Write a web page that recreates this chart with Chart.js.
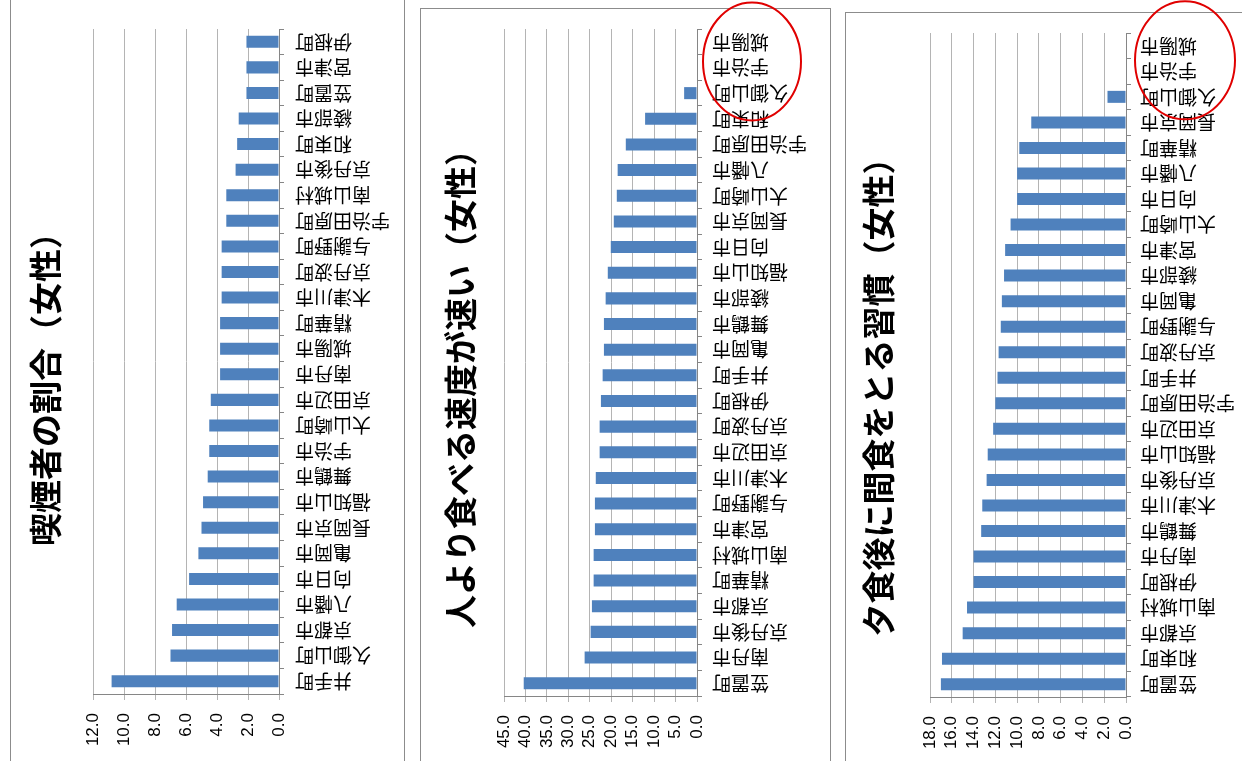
<!DOCTYPE html>
<html lang="ja">
<head>
<meta charset="utf-8">
<title>女性の生活習慣</title>
<script src="https://cdn.jsdelivr.net/npm/chart.js@4.4.1/dist/chart.umd.min.js"></script>
<style>
  html, body { margin: 0; padding: 0; background: #fff; overflow: hidden; }
  body { width: 1242px; height: 761px; position: relative; }
  .box { position: absolute; border: 1px solid #8c8c8c; box-sizing: border-box; }
  canvas { position: absolute; top: 0; }
</style>
</head>
<body>
<div class="box" style="left:10px;top:-10px;width:395px;height:800px"></div>
<div class="box" style="left:420px;top:8px;width:411px;height:800px"></div>
<div class="box" style="left:845px;top:12px;width:420px;height:800px"></div>
<canvas id="smoke" width="392" height="761" style="left:11px"></canvas>
<canvas id="speed" width="408" height="761" style="left:421px"></canvas>
<canvas id="snack" width="396" height="761" style="left:846px"></canvas>

<script>
// 喫煙者の割合（女性）
const smokeCities = ["伊根町", "宮津市", "笠置町", "綾部市", "和束町", "京丹後市", "南山城村", "宇治田原町", "与謝野町",
    "京丹波町", "木津川市", "精華町", "城陽市", "南丹市", "京田辺市", "大山崎町", "宇治市", "舞鶴市", "福知山市",
    "長岡京市", "亀岡市", "向日市", "八幡市", "京都市", "久御山町", "井手町"];
const smokeValues = [2.1, 2.1, 2.1, 2.6, 2.7, 2.8, 3.4, 3.4, 3.7, 3.7, 3.7, 3.8, 3.8, 3.8, 4.4, 4.5, 4.5, 4.6, 4.9,
    5.0, 5.2, 5.8, 6.6, 6.9, 7.0, 10.8];

// 人より食べる速度が速い（女性）
const speedCities = ["城陽市", "宇治市", "久御山町", "和束町", "宇治田原町", "八幡市", "大山崎町", "長岡京市", "向日市",
    "福知山市", "綾部市", "舞鶴市", "亀岡市", "井手町", "伊根町", "京丹波町", "京田辺市", "木津川市", "与謝野町",
    "宮津市", "南山城村", "精華町", "京都市", "京丹後市", "南丹市", "笠置町"];
const speedValues = [0, 0, 3.0, 12.1, 16.6, 18.5, 18.7, 19.4, 20.1, 20.8, 21.3, 21.7, 21.7, 22.0, 22.4, 22.7, 22.7,
    23.6, 23.8, 23.8, 24.1, 24.1, 24.5, 24.8, 26.2, 40.4];

// 夕食後に間食をとる習慣（女性）
const snackCities = ["城陽市", "宇治市", "久御山町", "長岡京市", "精華町", "八幡市", "向日市", "大山崎町", "宮津市",
    "綾部市", "亀岡市", "与謝野町", "京丹波町", "井手町", "宇治田原町", "京田辺市", "福知山市", "京丹後市", "木津川市",
    "舞鶴市", "南丹市", "伊根町", "南山城村", "京都市", "和束町", "笠置町"];
const snackValues = [0, 0, 1.7, 8.7, 9.8, 10.0, 10.0, 10.6, 11.1, 11.2, 11.4, 11.5, 11.7, 11.8, 12.0, 12.2, 12.7,
    12.8, 13.2, 13.3, 14.0, 14.0, 14.6, 15.0, 16.9, 17.0];

const JP = '"Noto Sans CJK JP", "Noto Sans CJK SC", sans-serif';
Chart.defaults.font.family = '"Liberation Sans", Arial, sans-serif';

// category names are turned upside down (180°), like in the scanned sheet
const flippedLabels = {
    id: 'flippedLabels',
    afterDraw(chart, args, opts) {
        const ctx = chart.ctx;
        const y = chart.scales.y;
        ctx.save();
        ctx.font = '19px ' + JP;
        ctx.fillStyle = '#000';
        ctx.textAlign = 'right';
        ctx.textBaseline = 'middle';
        chart.data.labels.forEach((name, i) => {
            ctx.save();
            ctx.translate(opts.x, y.getPixelForValue(i));
            ctx.rotate(Math.PI);
            ctx.fillText(name, 0, 0);
            ctx.restore();
        });
        if (opts.ring) {
            // red circle round the first three names
            ctx.strokeStyle = '#e00000';
            ctx.lineWidth = 2;
            ctx.beginPath();
            ctx.ellipse(opts.x + opts.ring.dx, y.getPixelForValue(1) + opts.ring.dy, opts.ring.rx, opts.ring.ry, 0, 0, Math.PI * 2);
            ctx.stroke();
        }
        ctx.restore();
    }
};

function makeChart(id, labels, values, max, step, title, g) {
    return new Chart(document.getElementById(id), {
        type: 'bar',
        data: {
            labels: labels,
            datasets: [{
                data: values,
                xAxisID: 'x',
                yAxisID: 'y',
                backgroundColor: '#4F81BD',
                barPercentage: 0.47,
                categoryPercentage: 1
            }]
        },
        options: {
            responsive: false,
            animation: false,
            indexAxis: 'y',
            layout: { padding: { top: g.top, bottom: 0, left: 0, right: 0 } },
            plugins: {
                legend: { display: false },
                tooltip: { enabled: false },
                title: {
                    display: true,
                    text: title,
                    position: 'left',
                    color: '#000',
                    font: { family: JP, size: 33, weight: 'bold', lineHeight: 1 },
                    padding: { top: g.tPad, bottom: g.bPad }
                },
                flippedLabels: { x: g.labelX, ring: g.ring }
            },
            scales: {
                x: {
                    reverse: true,
                    min: 0,
                    max: max,
                    ticks: {
                        stepSize: step,
                        autoSkip: false,
                        minRotation: 90,
                        maxRotation: 90,
                        padding: 13,
                        color: '#000',
                        font: { size: 17 },
                        callback: v => Number(v).toFixed(1)
                    },
                    grid: { color: '#b4b4b4', tickLength: 6 },
                    border: { color: '#868686' },
                    afterFit: s => { s.height = 761 - g.plotBottom; }
                },
                // empty strip above the bars
                gap: {
                    type: 'linear',
                    axis: 'x',
                    position: 'top',
                    grid: { display: false },
                    border: { display: false },
                    ticks: { display: false },
                    afterFit: s => { s.height = g.plotTop - g.top; }
                },
                y: {
                    position: 'right',
                    ticks: { display: false },
                    grid: { drawOnChartArea: false, tickLength: 5, color: '#868686', offset: true },
                    border: { color: '#868686' },
                    afterFit: s => { s.width = g.yw; }
                }
            }
        },
        plugins: [flippedLabels]
    });
}

makeChart('smoke', smokeCities, smokeValues, 12, 2, '喫煙者の割合（女性）',
    { top: 1, plotTop: 29, plotBottom: 694, yw: 124, tPad: 17.5, bPad: 31.5, labelX: 284 });

makeChart('speed', speedCities, speedValues, 45, 5, '人より食べる速度が速い（女性）',
    { top: 0, plotTop: 29, plotBottom: 696, yw: 132, tPad: 22.5, bPad: 27.5, labelX: 291,
      ring: { dx: 40, dy: -6, rx: 49, ry: 59 } });

makeChart('snack', snackCities, snackValues, 18, 2, '夕食後に間食をとる習慣（女性）',
    { top: 17, plotTop: 33, plotBottom: 697, yw: 116, tPad: 15.5, bPad: 35.5, labelX: 294,
      ring: { dx: 45, dy: -11, rx: 50, ry: 59 } });
</script>
</body>
</html>
